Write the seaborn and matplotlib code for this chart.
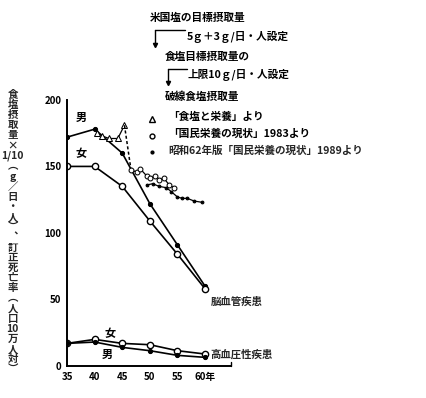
import numpy as np
import pandas as pd
import matplotlib
matplotlib.use("Agg")
import matplotlib.pyplot as plt
import seaborn as sns

# death rates (per 100,000) by Showa year
years = [35, 40, 45, 50, 55, 60]
cv_male = [172, 178, 160, 122, 91, 60]
cv_female = [150, 150, 135, 109, 84, 58]
ht_female = [17, 20, 17, 16, 11.5, 9]
ht_male = [17, 18, 14, 11.5, 8, 6.5]

# salt intake x 1/10
tri_years = [40.5, 41.3, 42.6, 44.2, 45.4]
tri_vals = [175, 173, 171, 171, 181]
c83_years = [46.6, 47.6, 48.3, 49.4, 50.1, 51.0, 51.7, 52.6, 53.5, 54.4]
c83_vals = [147, 146, 148, 143, 141, 143, 140, 141, 136, 134]
d89_years = [49.4, 50.5, 51.7, 53.0, 53.9, 55.0, 55.9, 56.8, 58.0, 59.5]
d89_vals = [136, 137, 135, 134, 131, 127, 126, 126, 124, 123]

xticks = [35, 40, 45, 50, 55, 60]
xticklabels = ["35", "40", "45", "50", "55", "60年"]
yticks = [0, 50, 100, 150, 200]

sns.set_theme(style="white")
plt.rcParams['font.family'] = ['Noto Sans CJK JP', 'DejaVu Sans']
plt.rcParams['font.weight'] = 'bold'

fig = plt.figure(figsize=(4.27, 3.98), dpi=100)
ax = fig.add_axes([0.157, 0.0804, 0.384, 0.6686])

df = pd.DataFrame({'year': years, 'cvm': cv_male, 'cvf': cv_female,
                   'htf': ht_female, 'htm': ht_male})

sns.lineplot(data=df, x='year', y='cvm', color='black', lw=1.2, marker='o',
             markersize=3, markerfacecolor='black', markeredgecolor='black', ax=ax)
sns.lineplot(data=df, x='year', y='cvf', color='black', lw=1.2, marker='o',
             markersize=4.5, markerfacecolor='white', markeredgecolor='black',
             markeredgewidth=1, ax=ax)
sns.lineplot(data=df, x='year', y='htf', color='black', lw=1.2, marker='o',
             markersize=4.5, markerfacecolor='white', markeredgecolor='black',
             markeredgewidth=1, ax=ax)
sns.lineplot(data=df, x='year', y='htm', color='black', lw=1.2, marker='o',
             markersize=3, markerfacecolor='black', markeredgecolor='black', ax=ax)

# salt intake series
sns.lineplot(x=tri_years, y=tri_vals, color='black', lw=0.9, marker='^',
             markersize=4, markerfacecolor='white', markeredgecolor='black', ax=ax)
ax.plot([tri_years[-1], c83_years[0]], [tri_vals[-1], c83_vals[0]],
        color='black', lw=1.1, ls=(0, (2, 1.5)))
sns.lineplot(x=c83_years, y=c83_vals, color='black', lw=0.9, marker='o',
             markersize=3.5, markerfacecolor='white', markeredgecolor='black', ax=ax)
sns.lineplot(x=d89_years, y=d89_vals, color='black', lw=0.9, marker='o',
             markersize=2, markerfacecolor='black', markeredgecolor='black', ax=ax)

ax.set_xlim(35, 64.7)
ax.set_ylim(0, 200)
ax.set_xticks(xticks)
ax.set_xticklabels(xticklabels, fontsize=7, fontweight='bold')
ax.set_yticks(yticks)
ax.set_yticklabels([str(v) for v in yticks], fontsize=7, fontweight='bold')
ax.tick_params(axis='both', direction='out', length=3, width=1, pad=1, colors='black')
for s in ['top', 'right']:
    ax.spines[s].set_visible(False)
for s in ['left', 'bottom']:
    ax.spines[s].set_color('black')
    ax.spines[s].set_linewidth(1.4)
ax.plot([64.7, 64.7], [0, 3], color='black', lw=1, clip_on=False)
ax.set_xlabel('')
ax.set_ylabel('')

tk = dict(fontsize=8, fontweight='bold', color='black')
ax.text(36.5, 184, '男', **tk)
ax.text(36.5, 157, '女', **tk)
ax.text(41.8, 22, '女', **tk)
ax.text(41.2, 6, '男', **tk)
ax.text(61.0, 48, '脳血管疾患', fontsize=7.5, fontweight='bold', va='center')
ax.text(61.0, 8.5, '高血圧性疾患', fontsize=7.5, fontweight='bold', va='center')

# vertical y label
ylab = ['食', '塩', '摂', '取', '量', '×', '1/10', '︵', 'g', '／', '日', '・', '人', '︶',
        '︑', '訂', '正', '死', '亡', '率', '︵', '人', '口', '10', '万', '人', '対', '︶']
fig.text(0.03, 0.775, '\n'.join(ylab), fontsize=7.5, fontweight='bold',
         ha='center', va='top', linespacing=1.02)

# notes at top
ft = dict(fontsize=7.7, fontweight='bold', color='black')
fig.text(150/427, 1-18/398, '米国塩の目標摂取量', va='center', **ft)
fig.text(187/427, 1-37/398, '5ｇ＋3ｇ/日・人設定', va='center', **ft)
fig.text(165/427, 1-57/398, '食塩目標摂取量の', va='center', **ft)
fig.text(188/427, 1-75/398, '上限10ｇ/日・人設定', va='center', **ft)
fig.text(165/427, 1-97/398, '破線食塩摂取量', va='center', **ft)
fig.text(168/427, 1-117/398, '「食塩と栄養」より', va='center', **ft)
fig.text(168/427, 1-134/398, '「国民栄養の現状」1983より', va='center', **ft)
fig.text(168/427, 1-151/398, '昭和62年版「国民栄養の現状」1989より', va='center', fontsize=7.6, fontweight='bold')
# bracket arrows
fig.add_artist(plt.Line2D([155/427, 185/427], [1-30/398, 1-30/398], color='black', lw=1))
fig.add_artist(plt.Line2D([155/427, 155/427], [1-30/398, 1-44/398], color='black', lw=1))
fig.add_artist(plt.Line2D([168/427, 187/427], [1-69/398, 1-69/398], color='black', lw=1))
fig.add_artist(plt.Line2D([168/427, 168/427], [1-69/398, 1-82/398], color='black', lw=1))
fig.add_artist(plt.Line2D([155/427], [1-45/398], marker='v', color='black', markersize=3))
fig.add_artist(plt.Line2D([168/427], [1-83/398], marker='v', color='black', markersize=3))
# legend symbols
fig.add_artist(plt.Line2D([152/427], [1-119/398], marker='^', color='black', markersize=4,
                          markerfacecolor='white'))
fig.add_artist(plt.Line2D([152/427], [1-136/398], marker='o', color='black', markersize=3.5,
                          markerfacecolor='white'))
fig.add_artist(plt.Line2D([152/427], [1-152/398], marker='o', color='black', markersize=2))

fig.savefig('out.png', dpi=100)
